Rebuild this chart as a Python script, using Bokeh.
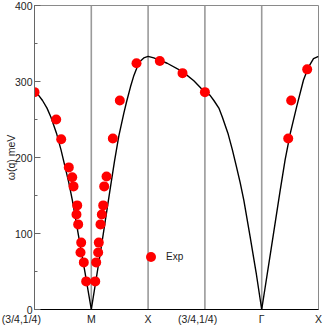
import numpy as np
from bokeh.plotting import figure
from bokeh.models import Range1d, FixedTicker, SingleIntervalTicker, Span
from bokeh.embed import file_html
from bokeh.resources import INLINE

# high-symmetry path
tick_positions = [0, 1, 2, 3, 4, 5]
tick_labels = ["(3/4,1/4)\u00a0\u00a0\u00a0\u00a0\u00a0\u00a0\u00a0\u00a0\u00a0", "M", "X",
               "(3/4,1/4)\u00a0\u00a0\u00a0\u00a0\u00a0", "\u0393", "X"]
y_label = "\u03c9(q) meV"

# theory curve (q along path, omega in meV)
curve_q = [0.000, 0.070, 0.141, 0.220, 0.290, 0.387, 0.467, 0.537, 0.604, 0.666, 0.778, 0.889, 1.000,
           1.169, 1.329, 1.408, 1.484, 1.572, 1.620, 1.690, 1.750, 1.808, 1.866, 1.924, 2.000,
           2.100, 2.336, 2.606, 2.805, 3.000,
           3.088, 3.158, 3.246, 3.308, 3.405, 3.484, 3.555, 3.621, 3.685, 3.796, 3.901, 4.000,
           4.167, 4.322, 4.412, 4.504, 4.616, 4.736, 4.824, 4.912, 5.000]
curve_w = [286, 282, 275, 265, 253, 232, 210, 188, 167, 144, 96, 49, 0,
           79, 157, 195, 228, 258, 273, 293, 308, 319, 327, 331, 333,
           331, 324, 313, 301, 286,
           282, 275, 265, 253, 232, 210, 188, 167, 144, 96, 49, 0,
           80, 155, 197, 232, 267, 302, 319, 330, 333]

# experimental points
exp_q = [0.000, 0.382, 0.470, 0.604, 0.664, 0.687, 0.752, 0.739, 0.769, 0.822, 0.810, 0.868, 0.910,
         1.069, 1.086, 1.121, 1.132, 1.162, 1.185, 1.210, 1.227, 1.268, 1.379, 1.502, 1.796,
         2.206, 2.606, 3.000, 4.467, 4.519, 4.801]
exp_w = [286, 250, 224, 187, 174, 162, 137, 125, 112, 88, 75, 62, 37,
         37, 62, 75, 88, 112, 125, 137, 162, 175, 225, 275, 324,
         327, 311, 286, 225, 275, 316]

FONT = "Liberation Sans"

p = figure(width=327, height=327, x_range=Range1d(0, 5), y_range=Range1d(0, 400),
           output_backend="svg", toolbar_location=None,
           min_border_left=34, min_border_right=9, min_border_top=5, min_border_bottom=17)
p.styles = {"position": "absolute", "top": "0px", "left": "0px"}
p.background_fill_color = "white"
p.border_fill_color = "white"
p.outline_line_color = "#8a8a8a"
p.outline_line_width = 1
p.xgrid.visible = False
p.ygrid.visible = False

for v in tick_positions[1:-1]:
    p.add_layout(Span(location=v, dimension="height", line_color="#9a9a9a",
                      line_width=1.6, level="underlay"))

p.line(curve_q, curve_w, line_color="black", line_width=1.4)
p.scatter(exp_q, exp_w, size=10, fill_color="#ff0000", line_color=None, legend_label="Exp")

# y axis
ya = p.yaxis[0]
ya.ticker = SingleIntervalTicker(interval=100, num_minor_ticks=2)
ya.axis_label = y_label
ya.axis_label_text_font = FONT
ya.axis_label_text_font_style = "normal"
ya.axis_label_text_font_size = "10.5px"
ya.axis_label_text_color = "#222222"
ya.axis_label_standoff = -5
ya.major_label_text_font = FONT
ya.major_label_text_font_size = "10.5px"
ya.major_label_text_color = "#222222"
ya.major_label_standoff = 2
ya.major_tick_in = 6
ya.major_tick_out = 0
ya.minor_tick_in = 3
ya.minor_tick_out = 0
ya.axis_line_color = "#666666"
ya.major_tick_line_color = "#666666"
ya.minor_tick_line_color = "#666666"

# x axis
xa = p.xaxis[0]
xa.ticker = FixedTicker(ticks=tick_positions)
xa.major_label_overrides = {t: l for t, l in zip(tick_positions, tick_labels)}
xa.major_label_text_font = FONT
xa.major_label_text_font_size = "10.5px"
xa.major_label_text_color = "#222222"
xa.major_label_standoff = 3
xa.major_tick_in = 0
xa.major_tick_out = 0
xa.minor_tick_in = 0
xa.minor_tick_out = 0
xa.axis_line_color = "black"
xa.axis_line_width = 1.2

lg = p.legend[0]
lg.location = (104, 40)
lg.padding = 0
lg.margin = 0
lg.spacing = 0
lg.border_line_color = None
lg.background_fill_alpha = 0
lg.glyph_width = 25
lg.glyph_height = 25
lg.label_height = 25
lg.label_standoff = 3
lg.label_text_font = FONT
lg.label_text_font_size = "10px"
lg.label_text_color = "#222222"

open("out.html", "w").write(file_html(p, INLINE))
